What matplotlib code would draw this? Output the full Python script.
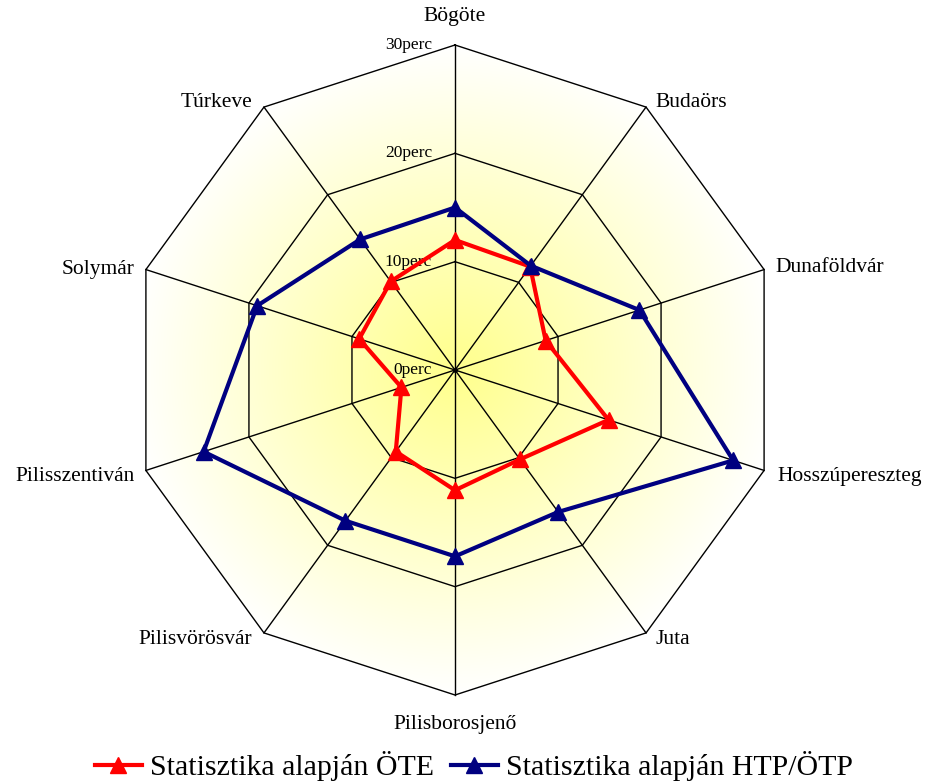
import numpy as np
import matplotlib.pyplot as plt
from matplotlib.patches import Polygon

plt.rcParams['font.family'] = ['Liberation Serif', 'DejaVu Serif']

# categories, clockwise from the top
places = ["Bögöte", "Budaörs", "Dunaföldvár", "Hosszúpereszteg", "Juta",
          "Pilisborosjenő", "Pilisvörösvár", "Pilisszentiván", "Solymár", "Túrkeve"]
ote = [12.0, 11.8, 8.8, 14.9, 10.2, 11.1, 9.3, 5.2, 9.3, 10.1]
htp = [15.0, 11.9, 17.9, 27.0, 16.2, 17.2, 17.2, 24.4, 19.2, 14.9]
rings = [0, 10, 20, 30]
ring_labels = ["0perc", "10perc", "20perc", "30perc"]
series_names = ["Statisztika alapján ÖTE", "Statisztika alapján HTP/ÖTP"]
rmax = 30

n = len(places)
ang = np.pi / 2 - np.arange(n) * 2 * np.pi / n

def xy(vals):
    v = np.asarray(vals, dtype=float)
    return v * np.cos(ang), v * np.sin(ang)

fig = plt.figure(figsize=(9.31, 7.84), dpi=100)
ax = fig.add_axes([0, 0, 1, 1])
s = 30 / 325.0
ax.set_xlim(-455 * s, (931 - 455) * s)
ax.set_ylim(-(784 - 370) * s, 370 * s)
ax.set_aspect('equal')
ax.axis('off')

# radial yellow gradient inside the outer decagon
g = np.linspace(-rmax, rmax, 400)
gx, gy = np.meshgrid(g, g)
t = np.clip(np.hypot(gx, gy) / rmax, 0, 1)
img = np.ones((400, 400, 3))
img[..., 2] = 0.55 + 0.45 * t
img = img[::-1]
im = ax.imshow(img, extent=[-rmax, rmax, -rmax, rmax], zorder=0, interpolation='bilinear')
ox, oy = xy([rmax] * n)
clip = Polygon(np.column_stack([ox, oy]), closed=True, transform=ax.transData)
im.set_clip_path(clip)

# grid: decagons and spokes
for r in rings[1:]:
    rx, ry = xy([r] * n)
    ax.plot(np.append(rx, rx[0]), np.append(ry, ry[0]), color='black', lw=1.0, zorder=1)
for i in range(n):
    ax.plot([0, ox[i]], [0, oy[i]], color='black', lw=1.0, zorder=1)
ax.plot(0, 0, 'o', color='black', ms=2.5, zorder=1)

for r, lab in zip(rings, ring_labels):
    ax.annotate(lab, (0, r), xytext=(-23, 0), textcoords='offset pixels',
                ha='right', va='center', fontsize=12.5, zorder=2)

# category labels
offs = [(0, 28), (9, 5), (11, 2), (13, -6), (9, -7),
        (0, -30), (-12, -7), (-11, -6), (-11, 0), (-12, 5)]
for i, name in enumerate(places):
    dx, dy = offs[i]
    ha = 'center' if dx == 0 else ('left' if dx > 0 else 'right')
    ax.annotate(name, (ox[i], oy[i]), xytext=(dx, dy), textcoords='offset pixels',
                ha=ha, va='center', fontsize=15.5)

# data series
for vals, col, lab, z in [(ote, '#ff0000', series_names[0], 3), (htp, '#000080', series_names[1], 4)]:
    px, py = xy(vals)
    ax.plot(np.append(px, px[0]), np.append(py, py[0]), color=col, lw=3.0,
            marker='^', ms=11, markevery=list(range(n)), label=lab, zorder=z)

fig.legend(loc='center', bbox_to_anchor=(474 / 931, 1 - 766 / 784), ncol=2,
           frameon=False, fontsize=21.5, handlelength=1.57, handletextpad=0.28,
           columnspacing=0.55)

fig.savefig('out.png', dpi=100)
